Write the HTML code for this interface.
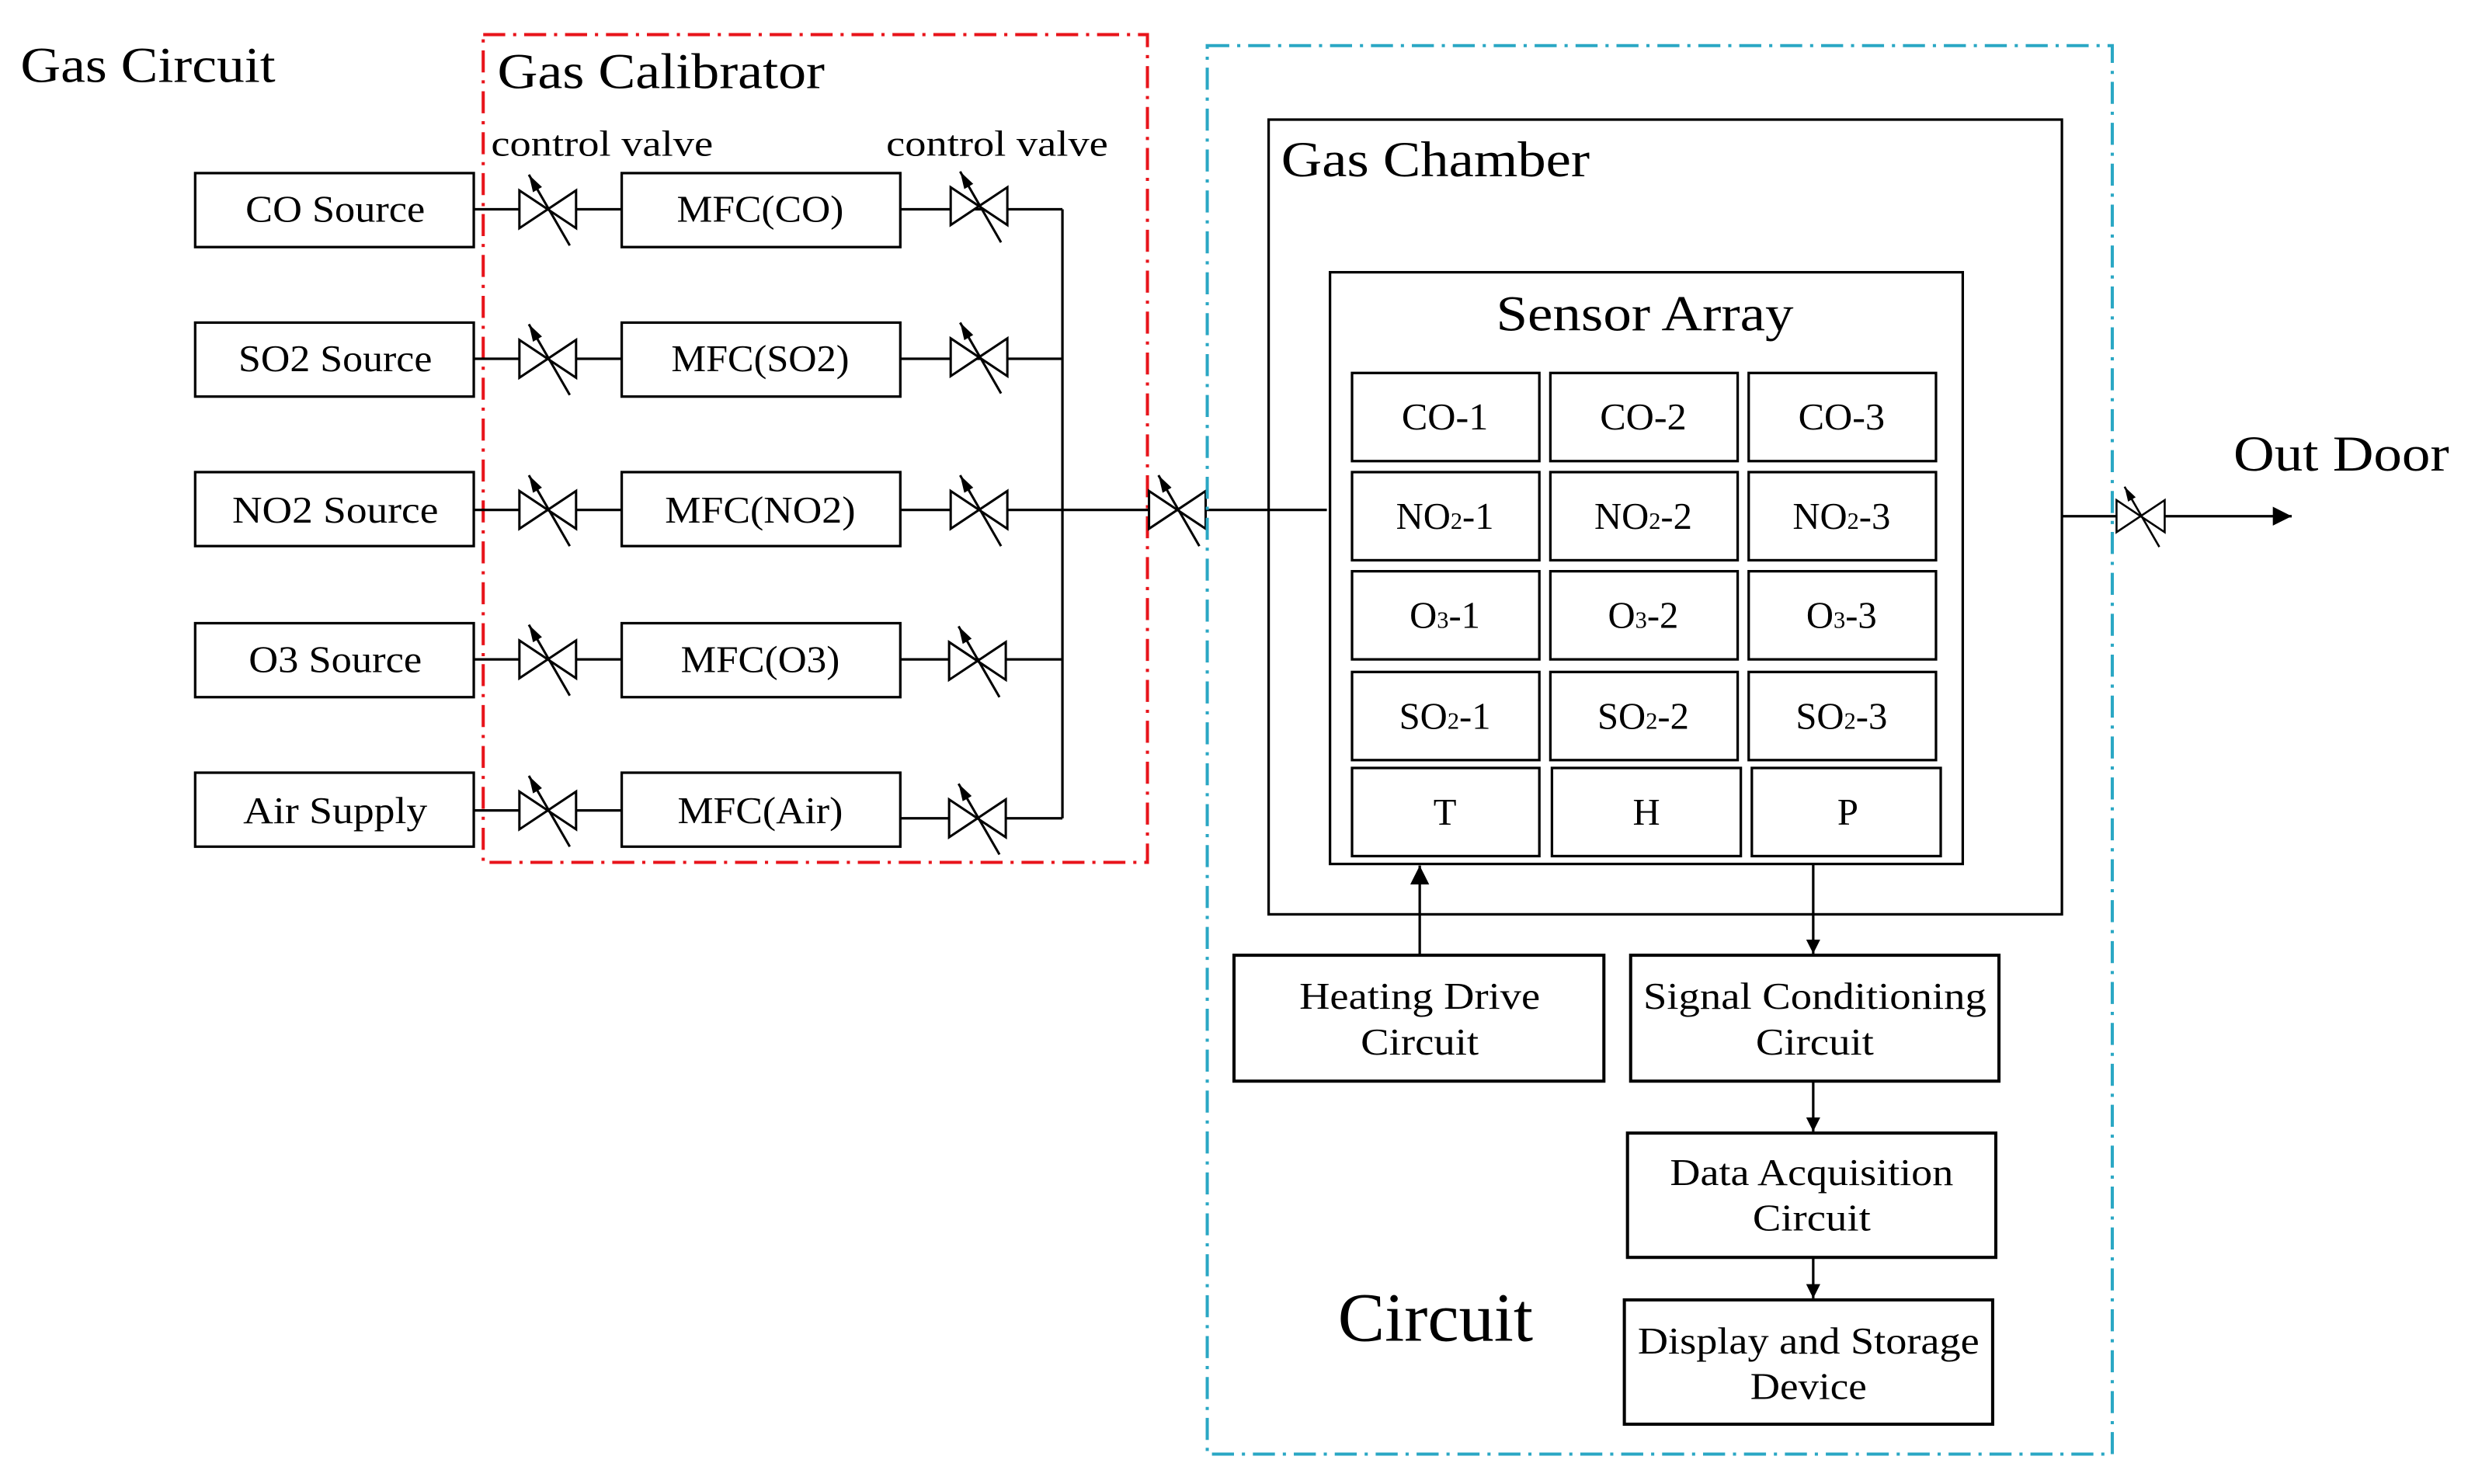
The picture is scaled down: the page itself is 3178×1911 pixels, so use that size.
<!DOCTYPE html>
<html><head><meta charset="utf-8"><style>
html,body{margin:0;padding:0;background:#fff;}
svg{display:block;}
text{font-family:"Liberation Serif",serif;fill:#000;}
</style></head><body>
<svg width="3178" height="1911" viewBox="0 0 1568 943" preserveAspectRatio="none" xmlns="http://www.w3.org/2000/svg">
<defs>
<marker id="ah" viewBox="0 0 10 10" refX="10" refY="5" markerWidth="9" markerHeight="9" markerUnits="userSpaceOnUse" orient="auto"><path d="M0,0 L10,5 L0,10 Z" fill="#000"/></marker>
<marker id="ah2" viewBox="0 0 10 10" refX="10" refY="5" markerWidth="12" markerHeight="12" markerUnits="userSpaceOnUse" orient="auto"><path d="M0,0 L10,5 L0,10 Z" fill="#000"/></marker>
<marker id="ahv" viewBox="0 0 10 10" refX="10" refY="5" markerWidth="11" markerHeight="11" markerUnits="userSpaceOnUse" orient="auto"><path d="M0,2 L10,5 L0,8 Z" fill="#000"/></marker>
<g id="v"><path d="M-18,-12 L18,12 L18,-12 L-18,12 Z" fill="#fff" stroke="#000" stroke-width="1.5"/><line x1="14" y1="23" x2="-12" y2="-22" stroke="#000" stroke-width="1.5" marker-end="url(#ahv)"/></g>
</defs>
<text x="13" y="52" font-size="32" textLength="162" lengthAdjust="spacingAndGlyphs">Gas Circuit</text>
<rect x="307" y="22" width="422" height="526" fill="none" stroke="#e8141b" stroke-width="2" stroke-dasharray="14,5,2,5"/>
<text x="316" y="56" font-size="32" textLength="208" lengthAdjust="spacingAndGlyphs">Gas Calibrator</text>
<text x="312" y="99" font-size="23" textLength="141" lengthAdjust="spacingAndGlyphs">control valve</text>
<text x="563" y="99" font-size="23" textLength="141" lengthAdjust="spacingAndGlyphs">control valve</text>
<g stroke="#000" stroke-width="1.6" fill="none">
<rect x="124" y="110" width="177" height="47"/><rect x="124" y="205" width="177" height="47"/><rect x="124" y="300" width="177" height="47"/><rect x="124" y="396" width="177" height="47"/><rect x="124" y="491" width="177" height="47"/>
<rect x="395" y="110" width="177" height="47"/><rect x="395" y="205" width="177" height="47"/><rect x="395" y="300" width="177" height="47"/><rect x="395" y="396" width="177" height="47"/><rect x="395" y="491" width="177" height="47"/>
<path d="M301,133H395M572,133H675M301,228H395M572,228H675M301,324H395M572,324H843M301,419H395M572,419H675M301,515H395M572,520H675M675,133V520"/>
</g>
<use href="#v" x="348" y="133"/><use href="#v" x="348" y="228"/><use href="#v" x="348" y="324"/><use href="#v" x="348" y="419"/><use href="#v" x="348" y="515"/>
<use href="#v" x="622" y="131"/><use href="#v" x="622" y="227"/><use href="#v" x="622" y="324"/><use href="#v" x="621" y="420"/><use href="#v" x="621" y="520"/>
<use href="#v" x="748" y="324"/>
<g font-size="24" text-anchor="middle" lengthAdjust="spacingAndGlyphs">
<text x="213" y="141" textLength="114" lengthAdjust="spacingAndGlyphs">CO Source</text><text x="213" y="236" textLength="123" lengthAdjust="spacingAndGlyphs">SO2 Source</text><text x="213" y="332" textLength="131" lengthAdjust="spacingAndGlyphs">NO2 Source</text><text x="213" y="427" textLength="110" lengthAdjust="spacingAndGlyphs">O3 Source</text><text x="213" y="523" textLength="117" lengthAdjust="spacingAndGlyphs">Air Supply</text>
<text x="483" y="141" textLength="106" lengthAdjust="spacingAndGlyphs">MFC(CO)</text><text x="483" y="236" textLength="113" lengthAdjust="spacingAndGlyphs">MFC(SO2)</text><text x="483" y="332" textLength="121" lengthAdjust="spacingAndGlyphs">MFC(NO2)</text><text x="483" y="427" textLength="101" lengthAdjust="spacingAndGlyphs">MFC(O3)</text><text x="483" y="523" textLength="105" lengthAdjust="spacingAndGlyphs">MFC(Air)</text>
</g>
<rect x="767" y="29" width="575" height="895" fill="none" stroke="#2aa7c4" stroke-width="2" stroke-dasharray="14,5,2,5"/>
<g stroke="#000" stroke-width="1.6" fill="none">
<rect x="806" y="76" width="504" height="505"/>
<rect x="845" y="173" width="402" height="376"/>
<rect x="859" y="237" width="119" height="56"/><rect x="985" y="237" width="119" height="56"/><rect x="1111" y="237" width="119" height="56"/>
<rect x="859" y="300" width="119" height="56"/><rect x="985" y="300" width="119" height="56"/><rect x="1111" y="300" width="119" height="56"/>
<rect x="859" y="363" width="119" height="56"/><rect x="985" y="363" width="119" height="56"/><rect x="1111" y="363" width="119" height="56"/>
<rect x="859" y="427" width="119" height="56"/><rect x="985" y="427" width="119" height="56"/><rect x="1111" y="427" width="119" height="56"/>
<rect x="859" y="488" width="119" height="56"/><rect x="986" y="488" width="120" height="56"/><rect x="1113" y="488" width="120" height="56"/>
<rect x="784" y="607" width="235" height="80" stroke-width="2"/>
<rect x="1036" y="607" width="234" height="80" stroke-width="2"/>
<rect x="1034" y="720" width="234" height="79" stroke-width="2"/>
<rect x="1032" y="826" width="234" height="79" stroke-width="2"/>
<path d="M1310,328H1456" marker-end="url(#ah2)"/>
<path d="M902,607V550" marker-end="url(#ah2)"/>
<path d="M1152,549V606" marker-end="url(#ah)"/>
<path d="M1152,687V719" marker-end="url(#ah)"/>
<path d="M1152,799V825" marker-end="url(#ah)"/>
</g>
<use href="#v" x="1360" y="328" transform="translate(1360 328) scale(0.85) translate(-1360 -328)"/>
<text x="814" y="112" font-size="32" textLength="196" lengthAdjust="spacingAndGlyphs">Gas Chamber</text>
<text x="1045" y="210" font-size="32" text-anchor="middle" textLength="189" lengthAdjust="spacingAndGlyphs">Sensor Array</text>
<text x="1419" y="299" font-size="32" textLength="137" lengthAdjust="spacingAndGlyphs">Out Door</text>
<text x="850" y="852" font-size="44" textLength="124" lengthAdjust="spacingAndGlyphs">Circuit</text>
<g font-size="24" text-anchor="middle">
<text x="918" y="273" textLength="55" lengthAdjust="spacingAndGlyphs">CO-1</text><text x="1044" y="273" textLength="55" lengthAdjust="spacingAndGlyphs">CO-2</text><text x="1170" y="273" textLength="55" lengthAdjust="spacingAndGlyphs">CO-3</text>
<text x="918" y="336">NO<tspan font-size="15">2</tspan>-1</text><text x="1044" y="336">NO<tspan font-size="15">2</tspan>-2</text><text x="1170" y="336">NO<tspan font-size="15">2</tspan>-3</text>
<text x="918" y="399">O<tspan font-size="15">3</tspan>-1</text><text x="1044" y="399">O<tspan font-size="15">3</tspan>-2</text><text x="1170" y="399">O<tspan font-size="15">3</tspan>-3</text>
<text x="918" y="463">SO<tspan font-size="15">2</tspan>-1</text><text x="1044" y="463">SO<tspan font-size="15">2</tspan>-2</text><text x="1170" y="463">SO<tspan font-size="15">2</tspan>-3</text>
<text x="918" y="524">T</text><text x="1046" y="524">H</text><text x="1174" y="524">P</text>
<text x="902" y="641" textLength="153" lengthAdjust="spacingAndGlyphs">Heating Drive</text><text x="902" y="670" textLength="75" lengthAdjust="spacingAndGlyphs">Circuit</text>
<text x="1153" y="641" textLength="218" lengthAdjust="spacingAndGlyphs">Signal Conditioning</text><text x="1153" y="670" textLength="75" lengthAdjust="spacingAndGlyphs">Circuit</text>
<text x="1151" y="753" textLength="180" lengthAdjust="spacingAndGlyphs">Data Acquisition</text><text x="1151" y="782" textLength="75" lengthAdjust="spacingAndGlyphs">Circuit</text>
<text x="1149" y="860" textLength="217" lengthAdjust="spacingAndGlyphs">Display and Storage</text><text x="1149" y="889" textLength="74" lengthAdjust="spacingAndGlyphs">Device</text>
</g>
</svg>
</body></html>
